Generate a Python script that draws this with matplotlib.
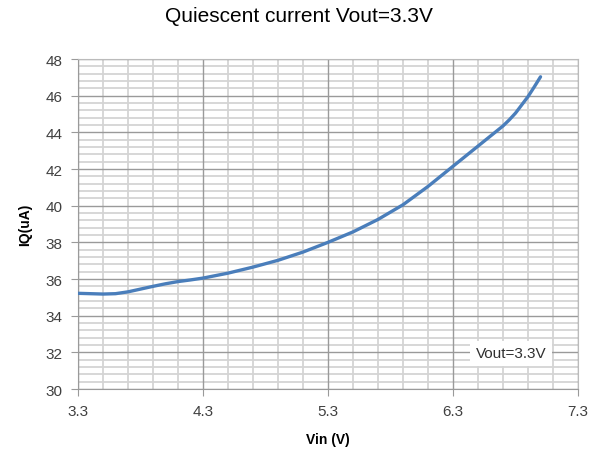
import matplotlib
matplotlib.use("Agg")
import matplotlib.pyplot as plt
from matplotlib.ticker import MultipleLocator, FixedLocator

vin = [3.3, 3.4, 3.5, 3.6, 3.7, 3.8, 3.9, 4.0, 4.1, 4.2, 4.3, 4.5, 4.7, 4.9, 5.1, 5.3, 5.5, 5.7, 5.9, 6.1,
       6.3, 6.5, 6.6, 6.7, 6.75, 6.8, 6.85, 6.9, 6.95, 7.0]
iq = [35.22, 35.2, 35.18, 35.2, 35.3, 35.45, 35.6, 35.74, 35.86, 35.95, 36.05, 36.32, 36.65, 37.02, 37.47, 38.0,
      38.57, 39.25, 40.05, 41.05, 42.15, 43.25, 43.8, 44.35, 44.68, 45.05, 45.5, 45.95, 46.48, 47.03]
xticks = [3.3, 4.3, 5.3, 6.3, 7.3]
yticks = list(range(30, 49, 2))

plt.rcParams["font.family"] = ["Liberation Sans", "DejaVu Sans"]
fig = plt.figure(figsize=(5.98, 4.56), dpi=100)
ax = fig.add_axes([0.1304, 0.1447, 0.8362, 0.7237])

ax.set_xlim(3.3, 7.3); ax.set_ylim(30, 48)
ax.xaxis.set_major_locator(FixedLocator(xticks))
ax.xaxis.set_minor_locator(MultipleLocator(0.2, offset=0.1))
ax.yaxis.set_major_locator(FixedLocator(yticks))
ax.yaxis.set_minor_locator(MultipleLocator(0.4))
ax.set_xticklabels([f"{t:.1f}" for t in xticks])
ax.set_axisbelow(True)
ax.grid(which="minor", color="#d4d4d4", linewidth=1.3)
# major lines drawn on top of the minor grid so they stay solid
for x in xticks: ax.axvline(x, color="#9a9a9a", linewidth=1.0, zorder=1)
for y in yticks: ax.axhline(y, color="#9a9a9a", linewidth=1.0, zorder=1)
ax.tick_params(which="minor", length=0)
ax.tick_params(which="major", length=5, color="#9a9a9a", labelsize=11, labelcolor="#404040", pad=6)
for side in ("top", "right"):
    ax.spines[side].set_color("#bbbbbb")
for side in ("left", "bottom"):
    ax.spines[side].set_color("#9a9a9a")

ax.plot(vin, iq, color="#4a7ebb", linewidth=2.4, solid_capstyle="round", solid_joinstyle="round", zorder=3)

ax.text(6.48, 31.95, "Vout=3.3V", fontsize=11, color="#303030", va="center", ha="left", zorder=4,
        bbox=dict(facecolor="white", edgecolor="none", pad=4))

ax.set_xlabel("Vin (V)", fontsize=10, fontweight="bold", labelpad=10)
ax.set_ylabel("IQ(uA)", fontsize=10, fontweight="bold", labelpad=10)
fig.suptitle("Quiescent current Vout=3.3V", fontsize=15, y=0.985,
             family=["Liberation Sans Narrow", "Liberation Sans"])

fig.savefig("out.png", dpi=100)
